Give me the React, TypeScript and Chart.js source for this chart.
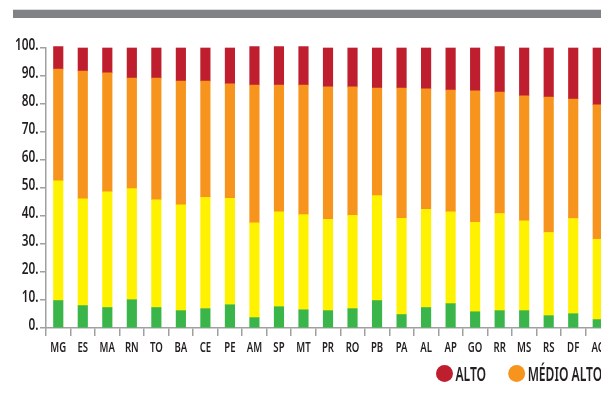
import { useEffect, useRef } from "react";
import { Chart, registerables } from "chart.js";

Chart.register(...registerables);

// Unidades da federação, na ordem do gráfico
const states = [
  "MG", "ES", "MA", "RN", "TO", "BA", "CE", "PE", "AM", "SP", "MT", "PR",
  "RO", "PB", "PA", "AL", "AP", "GO", "RR", "MS", "RS", "DF", "AC",
];

// Percentual por faixa de risco
const baixo = [
  9.8, 8.0, 7.3, 10.1, 7.3, 6.2, 6.9, 8.3, 3.7, 7.6, 6.5, 6.2,
  6.9, 9.8, 4.8, 7.3, 8.7, 5.8, 6.2, 6.2, 4.4, 5.1, 3.0,
];
const medioBaixo = [
  42.8, 38.1, 41.3, 39.7, 38.5, 37.8, 39.8, 38.0, 33.9, 33.9, 34.0, 32.6,
  33.3, 37.5, 34.4, 35.1, 32.8, 31.9, 34.7, 32.1, 29.7, 34.0, 28.7,
];
const medioAlto = [
  39.9, 45.7, 42.5, 39.5, 43.5, 44.2, 41.5, 40.9, 49.2, 45.3, 46.3, 47.3,
  45.9, 38.4, 46.5, 43.0, 43.5, 47.0, 43.4, 44.6, 48.4, 42.7, 48.0,
];
const alto = [
  8.0, 8.2, 8.9, 10.7, 10.7, 11.8, 11.8, 12.8, 13.7, 13.7, 13.7, 13.9,
  13.9, 14.3, 14.3, 14.6, 15.0, 15.3, 16.2, 17.1, 17.5, 18.2, 20.3,
];

const yTicks = [0, 10, 20, 30, 40, 50, 60, 70, 80, 90, 100];

const COLORS = {
  baixo: "#39b54a",
  medioBaixo: "#fff200",
  medioAlto: "#f7941d",
  alto: "#be1e2d",
};

// Legenda (as duas primeiras faixas, na ordem exibida)
const legendLabels = ["ALTO", "MÉDIO ALTO"];
const legendColors = [COLORS.alto, COLORS.medioAlto];

const FONT = "'Noto Sans', sans-serif";
const AXIS_GREY = "#a0a0a0";
const TEXT = "#231f20";

const CANVAS_W = 640;
const CANVAS_H = 396;

// Texto comprimido na horizontal, imitando uma fonte condensada
function drawCondensed(
  ctx: CanvasRenderingContext2D,
  text: string,
  x: number,
  y: number,
  sx: number
) {
  ctx.save();
  ctx.translate(x, y);
  ctx.scale(sx, 1);
  ctx.fillText(text, 0, 0);
  ctx.restore();
}

const condensedText = {
  id: "condensedText",
  afterDraw(chart: any) {
    const ctx: CanvasRenderingContext2D = chart.ctx;
    const xs = chart.scales.x;
    const ys = chart.scales.y;
    ctx.save();
    ctx.fillStyle = TEXT;
    ctx.textBaseline = "alphabetic";

    // rótulos do eixo Y
    ctx.font = `600 16px ${FONT}`;
    ctx.textAlign = "right";
    ys.ticks.forEach((t: any, i: number) => {
      drawCondensed(ctx, `${t.value}.`, ys.right - 7.5, ys.getPixelForTick(i) + 1.5, 0.74);
    });

    // rótulos do eixo X
    ctx.font = `600 15px ${FONT}`;
    ctx.textAlign = "center";
    xs.ticks.forEach((t: any, i: number) => {
      const label = String(chart.data.labels[t.value]);
      drawCondensed(ctx, label, xs.getPixelForTick(i), xs.top + 24, 0.64);
    });

    // legenda
    ctx.font = `600 19.5px ${FONT}`;
    ctx.textAlign = "left";
    const cy = 373.4;
    let cx = 444.5;
    legendLabels.forEach((label, i) => {
      ctx.fillStyle = legendColors[i];
      ctx.beginPath();
      ctx.arc(cx, cy, 8.5, 0, Math.PI * 2);
      ctx.fill();
      ctx.fillStyle = TEXT;
      const sx = 0.62;
      drawCondensed(ctx, label, cx + 11, cy + 7.3, sx);
      cx += 11 + ctx.measureText(label).width * sx + 30.5;
    });
    ctx.restore();
  },
};

export default function App() {
  const canvasRef = useRef<HTMLCanvasElement | null>(null);

  useEffect(() => {
    const canvas = canvasRef.current;
    if (!canvas) return;
    const chart = new Chart(canvas, {
      type: "bar",
      data: {
        labels: states,
        datasets: [
          { label: "BAIXO", data: baixo, backgroundColor: COLORS.baixo },
          { label: "MÉDIO BAIXO", data: medioBaixo, backgroundColor: COLORS.medioBaixo },
          { label: "MÉDIO ALTO", data: medioAlto, backgroundColor: COLORS.medioAlto },
          { label: "ALTO", data: alto, backgroundColor: COLORS.alto },
        ],
      },
      options: {
        responsive: false,
        animation: false,
        layout: { padding: { left: 0, top: 48, right: CANVAS_W - 610, bottom: 0 } },
        datasets: { bar: { barThickness: 9.5, borderWidth: 0, clip: 6 } as any },
        plugins: { legend: { display: false }, tooltip: { enabled: false } },
        scales: {
          x: {
            stacked: true,
            grid: {
              drawOnChartArea: false,
              tickLength: 8,
              color: AXIS_GREY,
              lineWidth: 1.5,
            },
            border: { color: AXIS_GREY, width: 1.5 },
            ticks: { display: false, autoSkip: false },
            afterFit(scale: any) {
              scale.height = 68;
              scale.paddingLeft = 0;
              scale.paddingRight = 0;
            },
          },
          y: {
            stacked: true,
            min: 0,
            max: 100,
            afterBuildTicks(scale: any) {
              scale.ticks = yTicks.map((v) => ({ value: v }));
            },
            grid: {
              drawOnChartArea: false,
              tickLength: 6,
              color: AXIS_GREY,
              lineWidth: 1.5,
            },
            border: { color: AXIS_GREY, width: 1.5 },
            ticks: { display: false },
            afterFit(scale: any) {
              scale.width = 46;
              scale.paddingTop = 0;
              scale.paddingBottom = 0;
            },
          },
        },
      },
      plugins: [condensedText],
    });
    return () => chart.destroy();
  }, []);

  return (
    <div
      style={{
        position: "fixed",
        left: 0,
        top: 0,
        width: 601,
        height: 396,
        overflow: "hidden",
        background: "#ffffff",
      }}
    >
      <div
        style={{
          position: "absolute",
          left: 13,
          top: 9,
          width: 600,
          height: 1,
          background: "#dcdcdc",
        }}
      />
      <div
        style={{
          position: "absolute",
          left: 13,
          top: 10,
          width: 600,
          height: 7.5,
          background: "#818285",
        }}
      />
      <canvas
        ref={canvasRef}
        width={CANVAS_W}
        height={CANVAS_H}
        style={{ position: "absolute", left: 0, top: 0, display: "block" }}
      />
    </div>
  );
}
